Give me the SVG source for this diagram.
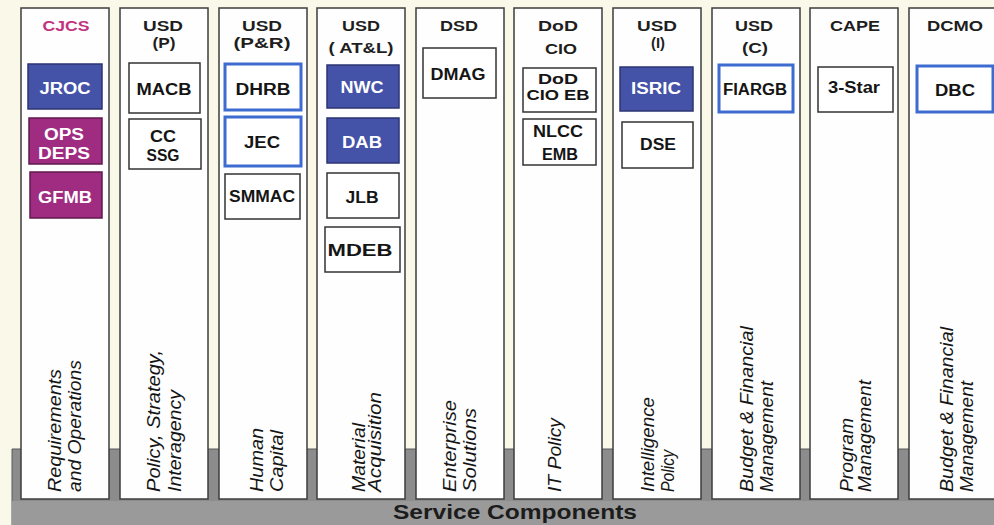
<svg xmlns="http://www.w3.org/2000/svg" width="994" height="525" viewBox="0 0 994 525">
<style>
.col{fill:#fefefe;stroke:#3c3c3c;stroke-width:1.5}
.hdr{font-family:"Liberation Sans",Arial,sans-serif;font-weight:bold;font-size:14px;fill:#1e1e1e;text-anchor:middle}
.lbl{font-family:"Liberation Sans",Arial,sans-serif;font-style:italic;font-size:18px;fill:#151515}
.bx{fill:#fff;stroke:#333;stroke-width:1.5}
.bb{fill:#fff;stroke:#3d6bd0;stroke-width:3}
.bf{fill:#4453a8;stroke:#2c3472;stroke-width:1.5}
.mf{fill:#a02c82;stroke:#5e1a4c;stroke-width:1.5}
.t{font-family:"Liberation Sans",Arial,sans-serif;font-weight:bold;font-size:16px;fill:#151515;text-anchor:middle}
.s{font-size:14px}
.tw{fill:#fff}
</style>
<rect width="994" height="525" fill="#f9f8e9"/>
<g id="service-components">
<rect x="12" y="449" width="982" height="76" fill="#8c8c8c"/>
<line x1="12" y1="449" x2="994" y2="449" stroke="#5a5a5a" stroke-width="1"/>
<line x1="12" y1="449" x2="12" y2="525" stroke="#5a5a5a" stroke-width="1"/>
<rect x="12" y="501" width="982" height="24" fill="#9a9a9a"/>
<text x="515" y="519" font-family="Liberation Sans,Arial,sans-serif" font-weight="bold" font-size="21" fill="#1c1c1c" text-anchor="middle" textLength="244" lengthAdjust="spacingAndGlyphs">Service Components</text>
</g>
<g id="connectors"/>

<g id="col-cjcs">
<rect class="col" x="21" y="8" width="88" height="491"/>
<text class="hdr" x="66" y="31" style="fill:#c2347e" textLength="47" lengthAdjust="spacingAndGlyphs">CJCS</text>
<text class="lbl" transform="translate(61,492) rotate(-90)" textLength="123" lengthAdjust="spacingAndGlyphs">Requirements</text>
<text class="lbl" transform="translate(81,492) rotate(-90)" textLength="132" lengthAdjust="spacingAndGlyphs">and Operations</text>
<g id="jroc"><rect class="bf" x="28" y="64" width="74" height="45"/><text class="t tw" x="65" y="94" textLength="51" lengthAdjust="spacingAndGlyphs">JROC</text></g>
<g id="opsdeps"><rect class="mf" x="29" y="118" width="73" height="46"/><text class="t tw" x="64" y="140" textLength="40" lengthAdjust="spacingAndGlyphs">OPS</text><text class="t tw" x="64" y="159" textLength="52" lengthAdjust="spacingAndGlyphs">DEPS</text></g>
<g id="gfmb"><rect class="mf" x="30" y="172" width="72" height="46"/><text class="t tw" x="65" y="203" textLength="54" lengthAdjust="spacingAndGlyphs">GFMB</text></g>
</g>

<g id="col-usdp">
<rect class="col" x="120" y="8" width="88" height="491"/>
<text class="hdr" x="163" y="31" textLength="40" lengthAdjust="spacingAndGlyphs">USD</text>
<text class="hdr" x="164" y="48" textLength="23" lengthAdjust="spacingAndGlyphs">(P)</text>
<text class="lbl" transform="translate(160,492) rotate(-90)" textLength="142" lengthAdjust="spacingAndGlyphs">Policy,  Strategy,</text>
<text class="lbl" transform="translate(181,492) rotate(-90)" textLength="102" lengthAdjust="spacingAndGlyphs">Interagency</text>
<g id="macb"><rect class="bx" x="129" y="63" width="71" height="50"/><text class="t" x="164" y="95" textLength="55" lengthAdjust="spacingAndGlyphs">MACB</text></g>
<g id="ccssg"><rect class="bx" x="129" y="119" width="72" height="50"/><text class="t" x="163" y="142" textLength="26" lengthAdjust="spacingAndGlyphs">CC</text><text class="t" x="163" y="161" textLength="33" lengthAdjust="spacingAndGlyphs">SSG</text></g>
</g>

<g id="col-usdpr">
<rect class="col" x="219" y="8" width="88" height="491"/>
<text class="hdr" x="262" y="31" textLength="40" lengthAdjust="spacingAndGlyphs">USD</text>
<text class="hdr" x="262" y="48" textLength="57" lengthAdjust="spacingAndGlyphs">(P&amp;R)</text>
<text class="lbl" transform="translate(263,492) rotate(-90)" textLength="64" lengthAdjust="spacingAndGlyphs">Human</text>
<text class="lbl" transform="translate(283,492) rotate(-90)" textLength="62" lengthAdjust="spacingAndGlyphs">Capital</text>
<g id="dhrb"><rect class="bb" x="225" y="64" width="76" height="46"/><text class="t" x="263" y="95" textLength="55" lengthAdjust="spacingAndGlyphs">DHRB</text></g>
<g id="jec"><rect class="bb" x="225" y="117" width="76" height="49"/><text class="t" x="262" y="148" textLength="36" lengthAdjust="spacingAndGlyphs">JEC</text></g>
<g id="smmac"><rect class="bx" x="225" y="174" width="75" height="45"/><text class="t" x="262" y="202" textLength="66" lengthAdjust="spacingAndGlyphs">SMMAC</text></g>
</g>

<g id="col-usdatl">
<rect class="col" x="317" y="8" width="88" height="491"/>
<text class="hdr" x="361" y="31" textLength="38" lengthAdjust="spacingAndGlyphs">USD</text>
<text class="hdr" x="361" y="53" textLength="65" lengthAdjust="spacingAndGlyphs">( AT&amp;L)</text>
<text class="lbl" transform="translate(365,492) rotate(-90)" textLength="69" lengthAdjust="spacingAndGlyphs">Material</text>
<text class="lbl" transform="translate(381,492) rotate(-90)" textLength="100" lengthAdjust="spacingAndGlyphs">Acquisition</text>
<g id="nwc"><rect class="bf" x="327" y="65" width="72" height="43"/><text class="t tw" x="362" y="93" textLength="43" lengthAdjust="spacingAndGlyphs">NWC</text></g>
<g id="dab"><rect class="bf" x="327" y="118" width="72" height="45"/><text class="t tw" x="362" y="148" textLength="40" lengthAdjust="spacingAndGlyphs">DAB</text></g>
<g id="jlb"><rect class="bx" x="327" y="173" width="72" height="45"/><text class="t" x="362" y="203" textLength="33" lengthAdjust="spacingAndGlyphs">JLB</text></g>
<g id="mdeb"><rect class="bx" x="325" y="227" width="75" height="45"/><text class="t" x="360" y="256" textLength="65" lengthAdjust="spacingAndGlyphs">MDEB</text></g>
</g>

<g id="col-dsd">
<rect class="col" x="416" y="8" width="88" height="491"/>
<text class="hdr" x="459" y="31" textLength="38" lengthAdjust="spacingAndGlyphs">DSD</text>
<text class="lbl" transform="translate(456,492) rotate(-90)" textLength="92" lengthAdjust="spacingAndGlyphs">Enterprise</text>
<text class="lbl" transform="translate(476,492) rotate(-90)" textLength="84" lengthAdjust="spacingAndGlyphs">Solutions</text>
<g id="dmag"><rect class="bx" x="423" y="48" width="73" height="50"/><text class="t" x="458" y="80" textLength="55" lengthAdjust="spacingAndGlyphs">DMAG</text></g>
</g>

<g id="col-dodcio">
<rect class="col" x="514" y="8" width="88" height="491"/>
<text class="hdr" x="558" y="31" textLength="40" lengthAdjust="spacingAndGlyphs">DoD</text>
<text class="hdr" x="561" y="54" textLength="32" lengthAdjust="spacingAndGlyphs">CIO</text>
<text class="lbl" transform="translate(561,492) rotate(-90)" textLength="74" lengthAdjust="spacingAndGlyphs">IT  Policy</text>
<g id="dodcioeb"><rect class="bx" x="523" y="68" width="73" height="44"/><text class="t s" x="558" y="84" textLength="40" lengthAdjust="spacingAndGlyphs">DoD</text><text class="t s" x="558" y="100" textLength="63" lengthAdjust="spacingAndGlyphs">CIO EB</text></g>
<g id="nlccemb"><rect class="bx" x="523" y="119" width="73" height="46"/><text class="t" x="558" y="137" textLength="50" lengthAdjust="spacingAndGlyphs">NLCC</text><text class="t" x="560" y="160" textLength="36" lengthAdjust="spacingAndGlyphs">EMB</text></g>
</g>

<g id="col-usdi">
<rect class="col" x="613" y="8" width="88" height="491"/>
<text class="hdr" x="657" y="31" textLength="40" lengthAdjust="spacingAndGlyphs">USD</text>
<text class="hdr" x="658" y="48" textLength="14" lengthAdjust="spacingAndGlyphs">(I)</text>
<text class="lbl" transform="translate(654,492) rotate(-90)" textLength="95" lengthAdjust="spacingAndGlyphs">Intelligence</text>
<text class="lbl" transform="translate(674,492) rotate(-90)" textLength="42" lengthAdjust="spacingAndGlyphs">Policy</text>
<g id="isric"><rect class="bf" x="620" y="67" width="73" height="44"/><text class="t tw" x="656" y="94" textLength="50" lengthAdjust="spacingAndGlyphs">ISRIC</text></g>
<g id="dse"><rect class="bx" x="622" y="122" width="71" height="46"/><text class="t" x="658" y="150" textLength="36" lengthAdjust="spacingAndGlyphs">DSE</text></g>
</g>

<g id="col-usdc">
<rect class="col" x="712" y="8" width="88" height="491"/>
<text class="hdr" x="754" y="31" textLength="38" lengthAdjust="spacingAndGlyphs">USD</text>
<text class="hdr" x="755" y="53" textLength="26" lengthAdjust="spacingAndGlyphs">(C)</text>
<text class="lbl" transform="translate(753,492) rotate(-90)" textLength="166" lengthAdjust="spacingAndGlyphs">Budget &amp; Financial</text>
<text class="lbl" transform="translate(773,492) rotate(-90)" textLength="111" lengthAdjust="spacingAndGlyphs">Management</text>
<g id="fiargb"><rect class="bb" x="719" y="65" width="74" height="47"/><text class="t" x="755" y="95" textLength="64" lengthAdjust="spacingAndGlyphs">FIARGB</text></g>
</g>

<g id="col-cape">
<rect class="col" x="810" y="8" width="88" height="491"/>
<text class="hdr" x="855" y="31" textLength="50" lengthAdjust="spacingAndGlyphs">CAPE</text>
<text class="lbl" transform="translate(853,492) rotate(-90)" textLength="74" lengthAdjust="spacingAndGlyphs">Program</text>
<text class="lbl" transform="translate(871,492) rotate(-90)" textLength="112" lengthAdjust="spacingAndGlyphs">Management</text>
<g id="threestar"><rect class="bx" x="818" y="67" width="75" height="45"/><text class="t" x="854" y="93" textLength="52" lengthAdjust="spacingAndGlyphs">3-Star</text></g>
</g>

<g id="col-dcmo">
<rect class="col" x="909" y="8" width="88" height="491"/>
<text class="hdr" x="955" y="31" textLength="56" lengthAdjust="spacingAndGlyphs">DCMO</text>
<text class="lbl" transform="translate(953,492) rotate(-90)" textLength="165" lengthAdjust="spacingAndGlyphs">Budget &amp; Financial</text>
<text class="lbl" transform="translate(973,492) rotate(-90)" textLength="111" lengthAdjust="spacingAndGlyphs">Management</text>
<g id="dbc"><rect class="bb" x="917" y="66" width="76" height="46"/><text class="t" x="955" y="96" textLength="40" lengthAdjust="spacingAndGlyphs">DBC</text></g>
</g>
</svg>
